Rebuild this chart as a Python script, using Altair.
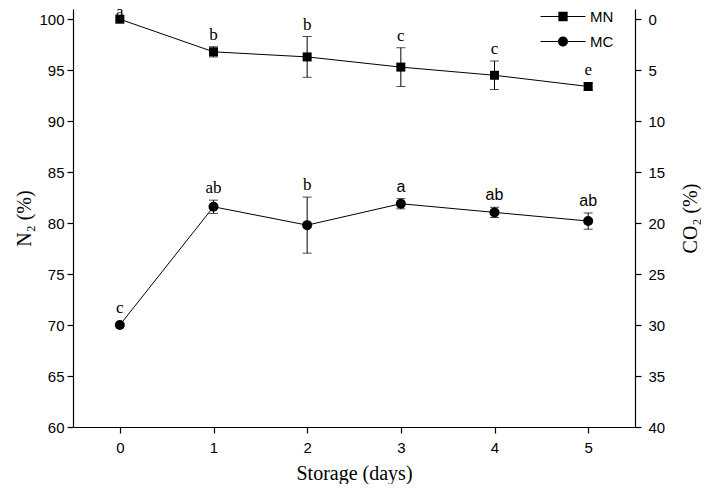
import altair as alt
import pandas as pd

# ---- data ----
days = [0, 1, 2, 3, 4, 5]
mn_n2 = [100.0, 96.8, 96.3, 95.3, 94.5, 93.4]          # N2 (%) – left axis
mn_err = [0.0, 0.5, 2.0, 1.9, 1.4, 0.35]
mn_letters = ["a", "b", "b", "c", "c", "e"]
mc_co2 = [30.0, 18.4, 20.2, 18.1, 18.95, 19.8]          # CO2 (%) – right axis
mc_err = [0.0, 0.65, 2.75, 0.5, 0.5, 0.8]
mc_letters = ["c", "ab", "b", "a", "ab", "ab"]
mc_letter_fonts = ["serif", "serif", "serif", "sans", "sans", "sans"]
series_names = ["MN", "MC"]
x_ticks = [0, 1, 2, 3, 4, 5]
n2_ticks = [60, 65, 70, 75, 80, 85, 90, 95, 100]
co2_ticks = [0, 5, 10, 15, 20, 25, 30, 35, 40]

SERIF = "Liberation Serif"
SANS = "Liberation Sans"

mn = pd.DataFrame({"day": days, "v": mn_n2, "err": mn_err, "lab": mn_letters})
mn["lo"] = mn["v"] - mn["err"]
mn["hi"] = mn["v"] + mn["err"]
mn["top"] = (mn["v"] + mn["err"].clip(lower=0.45)).clip(upper=99.5)

mc = pd.DataFrame({"day": days, "v": mc_co2, "err": mc_err, "lab": mc_letters,
                   "font": mc_letter_fonts})
mc["lo"] = mc["v"] - mc["err"]
mc["hi"] = mc["v"] + mc["err"]
mc["top"] = mc["v"] - mc["err"].clip(lower=0.5)

xenc = alt.X("day:Q", scale=alt.Scale(domain=[-0.5, 5.5], nice=False, zero=False),
             axis=alt.Axis(values=x_ticks, format="d", title="Storage (days)",
                           titlePadding=8, labelPadding=7))

yl_scale = alt.Scale(domain=[60, 101], nice=False, zero=False)
yl_axis = alt.Axis(values=n2_ticks, title="N₂ (%)", orient="left", titlePadding=4)
yr_scale = alt.Scale(domain=[-1, 40], reverse=True, nice=False, zero=False)
yr_axis = alt.Axis(values=co2_ticks, title="CO₂ (%)", orient="right",
                   titleAngle=270, titlePadding=36, labelPadding=7)

def group(df, yscale, yaxis, marker, msize, text_layers):
    base = alt.Chart(df)
    line = base.mark_line(color="black", strokeWidth=1).encode(
        x=xenc, y=alt.Y("v:Q", scale=yscale, axis=yaxis))
    bars = base.transform_filter("datum.err > 0").mark_rule(
        color="black", strokeWidth=1).encode(x="day:Q", y="lo:Q", y2="hi:Q")
    cap_lo = base.transform_filter("datum.err > 0").mark_tick(
        color="black", thickness=1, size=9, orient="horizontal").encode(
        x="day:Q", y="lo:Q")
    cap_hi = base.transform_filter("datum.err > 0").mark_tick(
        color="black", thickness=1, size=9, orient="horizontal").encode(
        x="day:Q", y="hi:Q")
    pts = base.mark_point(shape=marker, filled=True, color="black", size=msize,
                          opacity=1).encode(x="day:Q", y="v:Q")
    return alt.layer(line, bars, cap_lo, cap_hi, pts, *text_layers)

mn_text = alt.Chart(mn).mark_text(font=SERIF, fontSize=17, dy=-7,
                                   baseline="alphabetic", color="black").encode(
    x="day:Q", y="top:Q", text="lab:N")
mc_text_serif = alt.Chart(mc).transform_filter("datum.font == 'serif'").mark_text(
    font=SERIF, fontSize=17, dy=-7, baseline="alphabetic", color="black").encode(
    x="day:Q", y="top:Q", text="lab:N")
mc_text_sans = alt.Chart(mc).transform_filter("datum.font == 'sans'").mark_text(
    font=SANS, fontSize=16, dy=-7, baseline="alphabetic", color="black").encode(
    x="day:Q", y="top:Q", text="lab:N")

g_mn = group(mn, yl_scale, yl_axis, "square", 81, [mn_text])
g_mc = group(mc, yr_scale, yr_axis, "circle", 100, [mc_text_serif, mc_text_sans])

# legend glyphs: line - marker - line, all as filled shapes
path_mn = ("M-4.5,-0.11H-0.9V0.11H-4.5Z M0.9,-0.11H4.5V0.11H0.9Z "
           "M-0.93,-0.93H0.93V0.93H-0.93Z")
path_mc = ("M-4.5,-0.11H-0.95V0.11H-4.5Z M0.95,-0.11H4.5V0.11H0.95Z "
           "M-1,0A1,1 0 1,0 1,0A1,1 0 1,0 -1,0Z")

leg_df = pd.DataFrame({"series": series_names})
legend_layer = alt.Chart(leg_df).transform_filter("datum.series == 'none'").mark_point(
    filled=True, color="black", size=100, opacity=1).encode(
    shape=alt.Shape("series:N",
                    scale=alt.Scale(domain=series_names, range=[path_mn, path_mc]),
                    legend=alt.Legend(title=None, orient="none", legendX=482.5,
                                      legendY=0, padding=0, rowPadding=9,
                                      labelOffset=19.5, labelFont=SANS,
                                      labelFontSize=15, labelColor="black",
                                      symbolFillColor="black",
                                      symbolStrokeColor="black",
                                      symbolStrokeWidth=0,
                                      symbolOpacity=1)))

chart = alt.layer(g_mn, g_mc, legend_layer).resolve_scale(
    y="independent").properties(
    width=562, height=418,
    autosize=alt.AutoSizeParams(type="none"),
    padding={"left": 65, "top": 1, "right": 66, "bottom": 57},
).configure_view(stroke=None).configure_axis(
    grid=False, domainColor="black", domainWidth=1.2, tickColor="black",
    tickWidth=1.2, tickSize=6, labelFont=SANS, labelFontSize=15,
    labelColor="black", labelPadding=3, titleFont=SERIF, titleFontSize=20,
    titleFontWeight="normal", titleColor="black")

chart.save("out.html", embed_options={"renderer": "svg", "actions": False})
